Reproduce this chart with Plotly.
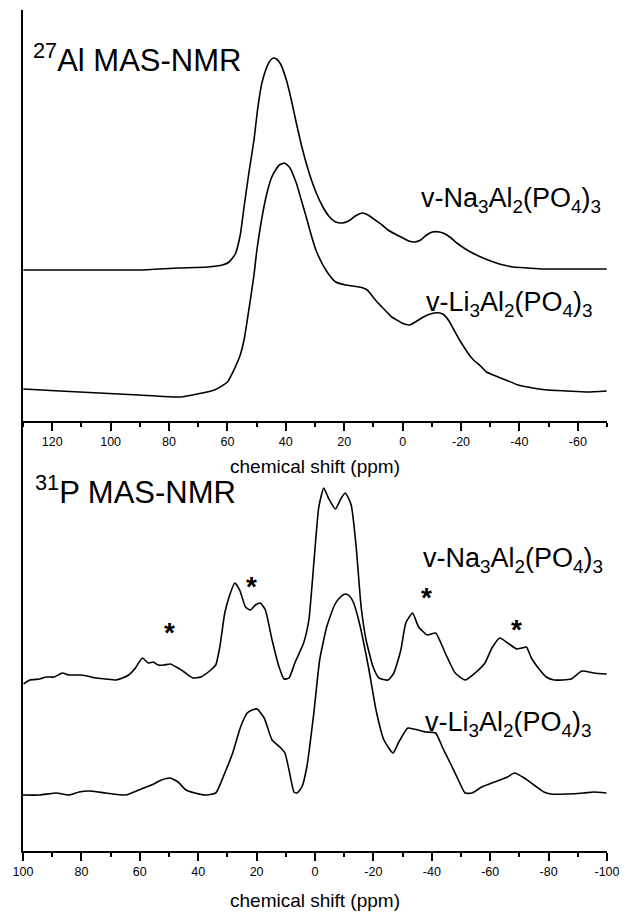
import plotly.graph_objects as go

# ---------------- data ----------------
# 27Al MAS-NMR, chemical shift (ppm) and intensity (a.u.)
al_na_ppm = [129.9, 117.4, 103.9, 90.4, 76.9, 66.8, 61.7, 59.4, 57.3, 55.6, 54.3, 52.6, 50.9, 49.6,
             48.2, 46.5, 45.2, 44.2, 43.2, 41.8, 39.8, 38.1, 36.4, 34.4, 32.0, 29.7, 27.3, 25.3, 22.9,
             20.6, 18.5, 16.2, 13.8, 11.8, 9.4, 7.0, 5.0, 2.6, -0.1, -2.1, -4.1, -6.2, -8.2, -10.2,
             -12.6, -14.6, -16.6, -18.6, -21.0, -23.3, -26.0, -28.4, -31.1, -34.5, -37.9, -42.9,
             -48.0, -54.7, -61.5, -69.9]
al_na_int = [151, 151, 151, 151, 153, 154, 156, 159, 167, 186, 214, 249, 281, 313,
             338, 354, 361, 363, 362, 357, 341, 321, 298, 273, 248, 229, 214, 205, 199,
             198, 200, 205, 208, 206, 201, 196, 191, 187, 183, 180, 179, 181, 186, 189,
             189, 187, 183, 178, 173, 169, 165, 162, 159, 156, 154, 153,
             152, 152, 152, 152]

al_li_ppm = [129.9, 117.4, 103.9, 90.4, 75.9, 70.2, 64.4, 60.0, 57.3, 55.6, 54.3, 52.3, 50.9, 49.9,
             47.5, 46.2, 44.8, 43.5, 42.2, 40.5, 38.8, 36.4, 34.7, 33.0, 31.4, 29.7, 28.0, 26.3,
             24.6, 22.9, 19.5, 17.1, 15.1, 13.5, 12.1, 10.4, 8.4, 6.1, 3.7, 2.0, 0.3, -2.4, -4.4,
             -6.5, -8.5, -10.8, -12.8, -14.2, -15.9, -17.6, -19.3, -21.0, -22.6, -24.3, -26.7,
             -28.7, -31.1, -33.5, -36.2, -39.5, -44.6, -49.7, -56.4, -63.2, -69.9]
al_li_int = [32, 30, 28, 26, 24, 27, 31, 39, 54, 66, 81, 118, 146, 171,
             214, 231, 244, 251, 256, 258, 254, 238, 221, 204, 187, 171, 160, 151,
             144, 139, 136, 135, 134, 133, 131, 125, 118, 111, 104, 101, 98, 96, 99,
             103, 106, 108, 108, 106, 100, 91, 82, 74, 67, 61, 55,
             49, 46, 43, 40, 36, 33, 31, 30, 29, 30]

# 31P MAS-NMR
p_na_ppm = [99.8, 97.7, 94.3, 92.0, 89.3, 86.5, 84.2, 80.8, 78.1, 75.0, 71.6, 68.2, 65.9, 63.8,
            61.5, 59.1, 57.1, 55.4, 53.7, 51.7, 49.6, 46.9, 44.8, 43.5, 41.8, 39.1, 35.7, 34.0,
            32.6, 30.9, 29.2, 27.5, 25.8, 23.8, 22.1, 20.4, 18.7, 17.0, 14.7, 12.3, 10.6, 8.9,
            6.9, 3.9, 2.1, 0.4, -1.3, -3.0, -4.6, -7.0, -9.0, -10.4, -12.4, -14.1, -15.8, -17.5,
            -19.9, -21.9, -25.0, -27.0, -29.4, -31.1, -33.4, -35.5, -38.5, -41.3, -44.6, -48.0,
            -51.4, -54.8, -58.2, -60.6, -63.3, -66.0, -69.1, -70.8, -72.4, -74.1, -76.2, -79.2,
            -81.9, -87.7, -91.4, -95.5, -99.9]
p_na_int = [167, 171, 172, 174, 174, 178, 176, 176, 175, 173, 172, 171, 173, 176,
            183, 193, 188, 189, 186, 186, 187, 183, 179, 176, 173, 174, 181, 186,
            204, 238, 256, 268, 261, 244, 241, 246, 248, 241, 211, 184, 172, 173,
            188, 208, 231, 288, 344, 363, 353, 342, 353, 358, 346, 304, 244, 211,
            184, 173, 171, 178, 201, 228, 238, 224, 216, 218, 198, 178,
            171, 178, 188, 203, 213, 208, 202, 203, 204, 193, 184, 174,
            171, 172, 180, 178, 177]

p_li_ppm = [100.1, 94.3, 88.6, 84.2, 80.8, 77.4, 71.6, 64.8, 60.4, 56.0, 52.6, 49.6, 46.9, 44.2,
            41.1, 37.7, 34.0, 30.9, 28.2, 25.5, 23.2, 21.5, 19.8, 17.4, 14.7, 12.0, 10.3, 8.9,
            7.2, 6.2, 4.5, 2.8, 0.4, -1.6, -4.0, -6.7, -8.7, -10.4, -11.8, -13.1, -15.2, -18.3,
            -20.9, -23.6, -26.7, -28.7, -31.8, -35.2, -37.9, -41.3, -43.6, -46.3, -49.1, -51.4,
            -53.8, -57.1, -61.5, -65.9, -68.3, -71.7, -75.0, -78.4, -80.8, -86.2, -92.0, -95.4,
            -99.8]
p_li_int = [56, 56, 58, 56, 59, 60, 58, 56, 61, 66, 71, 73, 69, 61,
            58, 56, 58, 78, 98, 124, 138, 141, 142, 133, 111, 104, 98, 81,
            59, 58, 64, 84, 138, 191, 224, 246, 254, 257, 255, 249, 228, 184,
            141, 111, 98, 109, 123, 121, 119, 118, 104, 88, 71, 58,
            58, 64, 69, 74, 78, 73, 66, 59, 57, 57, 58, 59,
            58]

al_ticks = [120, 100, 80, 60, 40, 20, 0, -20, -40, -60]
p_ticks = [100, 80, 60, 40, 20, 0, -20, -40, -60, -80, -100]

# ---------------- figure ----------------
W, H = 630, 912
L, R, T, B = 23, 15, 10, 61
PW, PH = W - L - R, H - T - B
split = (851 - 421) / PH
FONT = "Liberation Sans, Arial, Helvetica, sans-serif"


def paper(px, py):
    return (px - L) / PW, (H - B - py) / PH


fig = go.Figure()
line = dict(color="black", width=1.6, shape="spline", smoothing=0.5)
fig.add_trace(go.Scatter(x=al_na_ppm, y=al_na_int, mode="lines", line=line,
                         xaxis="x", yaxis="y", showlegend=False))
fig.add_trace(go.Scatter(x=al_li_ppm, y=al_li_int, mode="lines", line=line,
                         xaxis="x", yaxis="y", showlegend=False))
fig.add_trace(go.Scatter(x=p_na_ppm, y=p_na_int, mode="lines", line=line,
                         xaxis="x2", yaxis="y2", showlegend=False))
fig.add_trace(go.Scatter(x=p_li_ppm, y=p_li_int, mode="lines", line=line,
                         xaxis="x2", yaxis="y2", showlegend=False))

xcommon = dict(showline=True, linecolor="black", linewidth=1.6, ticks="outside", ticklen=8,
               tickwidth=1.5, tickcolor="black", showgrid=False, zeroline=False,
               tickfont=dict(family=FONT, size=12.5, color="black"),
               minor=dict(ticks="outside", ticklen=4.5, tickwidth=1.5, tickcolor="black",
                          dtick=10, tick0=0, showgrid=False))
ycommon = dict(showline=True, linecolor="black", linewidth=1.6, ticks="", showticklabels=False,
               showgrid=False, zeroline=False)

fig.update_layout(
    width=W, height=H,
    margin=dict(l=L, r=R, t=T, b=B, pad=0),
    paper_bgcolor="white", plot_bgcolor="white",
    xaxis=dict(range=[130, -70], tickvals=al_ticks, ticktext=[str(t) for t in al_ticks],
               anchor="y", **xcommon),
    yaxis=dict(range=[0, 411], domain=[split, 1], anchor="x", **ycommon),
    xaxis2=dict(range=[100, -100], tickvals=p_ticks, ticktext=[str(t) for t in p_ticks],
                anchor="y2", **xcommon),
    yaxis2=dict(range=[0, 430], domain=[0, split], anchor="x2", **ycommon),
)

ann = []


def text(px, py, s, size, xanchor="left", yanchor="middle", bold=False):
    x, y = paper(px, py)
    ann.append(dict(x=x, y=y, xref="paper", yref="paper", text=s, showarrow=False,
                    xanchor=xanchor, yanchor=yanchor,
                    font=dict(family=FONT, size=size, color="black",
                              weight="bold" if bold else "normal")))


text(31, 58, "<sup>27</sup>Al MAS-NMR", 31)
text(33, 490, "<sup>31</sup>P MAS-NMR", 31)
na = "v-Na<sub>3</sub>Al<sub>2</sub>(PO<sub>4</sub>)<sub>3</sub>"
li = "v-Li<sub>3</sub>Al<sub>2</sub>(PO<sub>4</sub>)<sub>3</sub>"
text(424, 200, na, 27)
text(429, 304, li, 27)
text(426, 560, na, 27)
text(428, 724, li, 27)
text(319, 467, "chemical shift (ppm)", 19, xanchor="center")
text(319, 900, "chemical shift (ppm)", 19, xanchor="center")
for (ax, ay) in [(171, 632), (255, 586), (432, 597), (523, 629)]:
    text(ax, ay, "*", 28, xanchor="center", bold=True)

fig.update_layout(annotations=ann)
fig.write_html("out.html")
